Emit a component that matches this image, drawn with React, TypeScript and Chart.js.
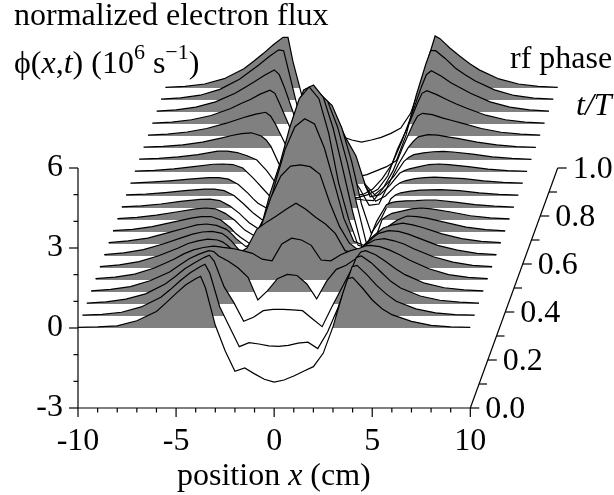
import React, { useEffect, useRef } from "react";
import { Chart, registerables } from "chart.js";

Chart.register(...registerables);

const xGrid = [-10,-9,-8,-7,-6,-5.5,-5,-4.5,-4,-3.75,-3.5,-3,-2.5,-2,-1.5,-1,-0.5, 0, 0.5,1,1.5,2,2.5,3,3.5,3.75,4,4.5,5,5.5,6,7,8,9,10];

const trace00 = [.02,.04,.08,.27,.62,.95,1.3,1.62,1.85,1.94,1.5,.1,-.85,-1.62,-1.5,-1.72,-1.92, -2.03, -1.95,-1.8,-1.62,-1.45,-.95,.05,1.3,1.85,1.9,1.5,1.05,.72,.5,.25,.1,.04,.02];
const trace01 = [.03,.06,.14,.34,.7,1.0,1.33,1.62,1.85,1.94,1.6,.35,-.4,-1.15,-1.0,-1.05,-1.12, -1.14, -1.1,-1.02,-.98,-1.22,-.6,.25,1.3,1.85,1.9,1.55,1.15,.82,.55,.27,.12,.05,.03];
const trace02 = [.03,.08,.18,.38,.75,1.02,1.32,1.55,1.75,1.83,1.6,.65,.05,-.65,-.5,-.25,-.2, -.2, -.22,-.25,-.55,-.85,-.1,.6,1.3,1.75,1.8,1.55,1.2,.85,.6,.3,.14,.07,.03];
const trace03 = [.04,.1,.2,.42,.75,1.0,1.25,1.42,1.55,1.52,1.35,1.15,.9,.55,-.3,.05,.5, .66, .62,.3,-.26,.4,.85,1.0,1.25,1.5,1.55,1.4,1.15,.88,.65,.33,.16,.08,.04];
const trace04 = [.05,.11,.22,.45,.78,.98,1.13,1.22,1.27,1.25,1.22,1.18,1.1,1.0,.78,.72,1.35, 1.57, 1.5,1.3,.75,.72,.95,1.1,1.2,1.28,1.3,1.25,1.12,.95,.75,.42,.2,.1,.05];
const trace05 = [.05,.12,.24,.46,.75,.92,1.02,1.08,1.05,.98,.85,.52,.75,1.45,1.72,1.95,2.2, 2.43, 2.2,1.9,1.65,1.3,.65,.55,.85,.95,1.05,1.1,1.02,.9,.72,.42,.22,.1,.05];
const trace06 = [.05,.12,.24,.45,.7,.82,.9,.92,.85,.72,.55,.12,.35,1.12,2.2,3.0,3.37, 3.42, 3.35,3.06,2.0,1.1,.48,.2,.55,.72,.85,.95,.92,.82,.68,.4,.22,.1,.05];
const trace07 = [.05,.12,.22,.42,.62,.72,.75,.7,.55,.4,.2,-.1,.05,.85,2.3,3.55,4.4, 4.7, 4.5,3.6,2.3,.95,.1,-.05,.3,.45,.6,.72,.78,.72,.62,.38,.2,.1,.05];
const trace08 = [.05,.1,.2,.36,.52,.58,.58,.45,.15,-.05,-.2,-.45,.05,1.42,2.53,3.89,5.0, 5.44, 5.0,3.7,1.85,.52,-.5,-.6,-.15,.05,.2,.45,.6,.58,.52,.35,.18,.09,.04];
const trace09 = [.05,.1,.18,.3,.42,.45,.42,.25,-.02,-.2,-.38,-.6,.1,1.4,2.6,3.9,4.88, 5.06, 4.6,3.45,1.9,.3,-1.1,-1.0,.02,.15,.25,.33,.42,.45,.42,.3,.16,.08,.04];
const trace10 = [.04,.08,.15,.25,.32,.33,.28,.08,-.2,-.38,-.55,-.8,-.5,1.1,2.2,3.3,4.1, 4.36, 4.0,3.05,1.7,.1,-1.4,-.5,.12,.2,.24,.27,.28,.3,.3,.22,.13,.07,.03];
const trace11 = [.04,.07,.13,.2,.26,.26,.2,.02,-.3,-.48,-.65,-.93,-.6,.7,1.8,2.8,3.5, 3.73, 3.4,2.55,1.3,-.3,-1.4,-.85,-.1,.05,.12,.18,.22,.23,.24,.2,.12,.06,.03];
const trace12 = [.03,.07,.12,.18,.24,.24,.18,-.02,-.35,-.55,-.72,-.93,-.6,.3,1.3,2.2,2.8, 2.9, 2.5,1.7,1.05,-.1,-.65,-.45,-.08,.05,.12,.2,.24,.26,.24,.2,.12,.06,.03];
const trace13 = [.03,.06,.12,.2,.29,.3,.28,.15,-.2,-.4,-.6,-1.0,-.7,-.1,.5,1.05,1.6, 1.85, 1.5,.7,-.1,-.93,-.85,-.5,-.05,.05,.12,.2,.28,.3,.28,.2,.11,.05,.02];
const trace14 = [.03,.06,.12,.2,.33,.33,.28,.16,.0,-.2,-.4,-.9,-.7,-.5,-.2,.2,.6, .8, .55,-.1,-.9,-1.3,-1.0,-.6,-.05,.1,.2,.27,.31,.32,.3,.22,.12,.06,.02];
const trace15 = [.03,.06,.12,.22,.38,.47,.54,.57,.45,.3,.05,-.75,-1.0,-1.2,-1.2,-1.1,-.9, -.8, -.95,-1.5,-2.15,-2.1,-1.35,-.6,.02,.25,.42,.5,.48,.42,.36,.22,.12,.05,.02];
const trace16 = [.03,.07,.15,.28,.48,.6,.72,.82,.89,.75,.45,-.3,-.95,-1.5,-1.95,-2.2,-2.3, -2.3, -2.35,-2.4,-2.42,-1.95,-1.3,-.4,.42,.75,.85,.8,.68,.58,.48,.28,.14,.07,.03];
const trace17 = [.03,.07,.16,.32,.58,.76,.92,1.12,1.27,1.15,.75,-.1,-.95,-1.75,-2.3,-2.6,-2.75, -2.8, -2.75,-2.65,-2.45,-1.95,-.95,-.15,.75,1.15,1.25,1.1,.92,.75,.6,.33,.16,.07,.03];
const trace18 = [.03,.08,.18,.38,.7,.92,1.14,1.38,1.58,1.4,.95,-.1,-1.0,-1.9,-2.5,-2.9,-3.05, -3.1, -3.1,-2.9,-2.5,-1.95,-1.1,-.1,.95,1.4,1.55,1.35,1.1,.9,.7,.38,.18,.08,.03];
const trace19 = [.03,.08,.18,.4,.78,1.05,1.32,1.62,1.88,1.85,1.1,-.4,-1.2,-1.95,-2.4,-2.7,-2.85, -2.88, -2.8,-2.65,-2.5,-2.27,-1.3,.15,1.35,1.85,1.85,1.55,1.2,.95,.72,.38,.17,.07,.03];
const trace20 = [.02,.06,.15,.35,.72,1.0,1.3,1.62,1.9,1.9,1.0,-.4,-1.1,-1.55,-1.7,-1.82,-1.95, -2.03, -1.95,-1.85,-1.7,-1.5,-.95,.1,1.35,1.95,1.85,1.5,1.2,.92,.68,.34,.15,.06,.02];

const traces = [trace00,trace01,trace02,trace03,trace04,trace05,trace06,trace07,trace08,trace09,trace10,trace11,trace12,trace13,trace14,trace15,trace16,trace17,trace18,trace19,trace20];

const xMajor = [-10,-5,0,5,10];
const xMinor = [-9,-8,-7,-6,-4,-3,-2,-1,1,2,3,4,6,7,8,9];
const yMajor = [-3,0,3,6];
const yMinor = [-2,-1,1,2,4,5];
const depthMajor = ["0.0","0.2","0.4","0.6","0.8","1.0"];
const depthMinor = [0.1,0.3,0.5,0.7,0.9];

const titleLine1 = "normalized electron flux";
const rfLabel = "rf phase";
const xLabelParts = ["position ", "x", " (cm)"];
const phiParts = ["\u03D5(", "x", ",", "t", ") (10", "6", " s", "\u22121", ")"];
const tOverT = "t/T";

const FONT = '"Liberation Serif"';
const SZ = 32;
const STEP_X = 4.37 / 19.615;
const STEP_Y = 0.45;
const N = traces.length - 1;

const zeroPad = (s: any) => { s.paddingTop = 0; s.paddingBottom = 0; s.paddingLeft = 0; s.paddingRight = 0; };

const chromePlugin = {
  id: "chrome",
  afterDatasetsDraw(chart: any) {
    const { ctx, scales } = chart;
    const x = scales.x, y = scales.y;
    const X0 = x.getPixelForValue(-10), X1 = x.getPixelForValue(10);
    const Y0 = y.getPixelForValue(-3), Y1 = y.getPixelForValue(6);
    ctx.save();
    ctx.strokeStyle = "#000";
    ctx.lineWidth = 1.2;
    const seg = (a: number, b: number, c: number, d: number) => {
      ctx.beginPath(); ctx.moveTo(a, b); ctx.lineTo(c, d); ctx.stroke();
    };
    seg(X0, Y0, X1, Y0);
    seg(X0, Y0, X0, Y1);
    xMajor.forEach(v => seg(x.getPixelForValue(v), Y0, x.getPixelForValue(v), Y0 + 9));
    xMinor.forEach(v => seg(x.getPixelForValue(v), Y0, x.getPixelForValue(v), Y0 + 4.5));
    yMajor.forEach(v => seg(X0 - 9, y.getPixelForValue(v), X0, y.getPixelForValue(v)));
    yMinor.forEach(v => seg(X0 - 4.5, y.getPixelForValue(v), X0, y.getPixelForValue(v)));
    // depth axis
    const dx = (t: number) => x.getPixelForValue(10 + t * N * STEP_X);
    const dy = (t: number) => y.getPixelForValue(-3 + t * N * STEP_Y);
    seg(dx(0), dy(0), dx(1), dy(1));
    ctx.fillStyle = "#000";
    ctx.textAlign = "left";
    ctx.textBaseline = "alphabetic";
    depthMajor.forEach(s => {
      const t = parseFloat(s);
      seg(dx(t), dy(t), dx(t) + 9, dy(t));
      ctx.font = `${SZ}px ${FONT}`;
      ctx.fillText(s, dx(t) + 15, dy(t) + 10);
    });
    depthMinor.forEach(t => seg(dx(t), dy(t), dx(t) + 8, dy(t)));
    // text
    const run = (parts: string[], fonts: string[], xs: number, ys: number, offs: number[]) => {
      let cx = xs;
      parts.forEach((p, i) => {
        ctx.font = fonts[i];
        ctx.fillText(p, cx, ys + offs[i]);
        cx += ctx.measureText(p).width;
      });
    };
    const r = `${SZ}px ${FONT}`, it = `italic ${SZ}px ${FONT}`, sm = `22px ${FONT}`;
    ctx.font = r;
    ctx.fillText(titleLine1, 14, 25);
    run(phiParts, [r, it, r, it, r, sm, r, sm, r], 14, 73, [0, 0, 0, 0, 0, -14, 0, -14, 0]);
    ctx.font = r;
    ctx.fillText(rfLabel, 510, 68);
    ctx.font = it;
    ctx.fillText(tOverT, 576, 115);
    run(xLabelParts, [r, it, r], 177, 485, [0, 0, 0]);
    ctx.restore();
  },
};

export default function App() {
  const ref = useRef<HTMLCanvasElement>(null);
  useEffect(() => {
    const datasets = traces.map((vals, k) => ({
      data: xGrid.map((v, i) => ({ x: v + k * STEP_X, y: vals[i] + k * STEP_Y })),
      borderColor: "#000",
      borderWidth: 1.2,
      pointRadius: 0,
      tension: 0,
      clip: false,
      fill: { target: { value: k * STEP_Y }, above: "#808080", below: "rgba(0,0,0,0)" },
    }));
    const tickFont = { family: FONT, size: SZ };
    const chart = new Chart(ref.current as HTMLCanvasElement, {
      type: "line",
      data: { datasets } as any,
      plugins: [chromePlugin],
      options: {
        responsive: false,
        animation: false,
        layout: { autoPadding: false, padding: { left: 18, top: 8, right: 26, bottom: 27 } },
        plugins: { legend: { display: false }, tooltip: { enabled: false } },
        scales: {
          x: {
            type: "linear",
            min: -10,
            max: 16,
            grid: { display: false, drawTicks: false },
            border: { display: false },
            afterBuildTicks: (s: any) => { s.ticks = xMajor.map(value => ({ value })); },
            afterFit: (s: any) => { s.height = 60; zeroPad(s); },
            ticks: { autoSkip: false, maxRotation: 0, color: "#000", font: tickFont, padding: 14, callback: (v: any) => String(v) },
          },
          y: {
            type: "linear",
            min: -3,
            max: 12,
            grid: { display: false, drawTicks: false },
            border: { display: false },
            afterBuildTicks: (s: any) => { s.ticks = yMajor.map(value => ({ value })); },
            afterFit: (s: any) => { s.width = 60; zeroPad(s); },
            ticks: { autoSkip: false, color: "#000", font: tickFont, padding: 15, callback: (v: any) => String(v) },
          },
        },
      } as any,
    });
    return () => chart.destroy();
  }, []);
  return (
    <div style={{ position: "absolute", left: 0, top: 0 }}>
      <canvas ref={ref} width={614} height={495} style={{ display: "block" }} />
    </div>
  );
}
